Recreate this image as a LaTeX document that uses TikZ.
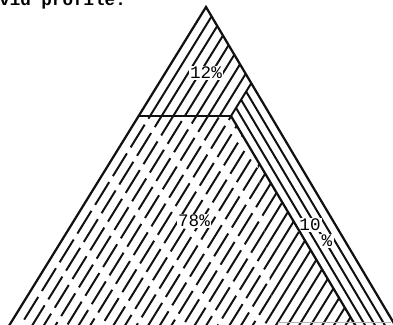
\documentclass[tikz,border=0pt]{standalone}
\usepackage{fontspec}
\newfontfamily\typefont{Liberation Mono}
\usetikzlibrary{calc}
\definecolor{cInk}{HTML}{111111}
\definecolor{cScan}{HTML}{B4B4B4}
\tikzset{
  edge/.style  ={draw=cInk, line width=1.6pt},
  hatch/.style ={draw=cInk, line width=1.4pt},
  dhatch/.style={hatch, dash pattern=on 19pt off 5pt},
  lbl/.style   ={font=\typefont\fontsize{12.5}{14}\selectfont, fill=white, inner sep=1pt},
}

\begin{document}
\begin{tikzpicture}[x=0.025cm,y=-0.025cm]
  \useasboundingbox (0,0) rectangle (393,324);
  % outline corners
  \coordinate (apex) at (206,7);
  \coordinate (ml)   at (138.6,116);
  \coordinate (kink) at (231,116);
  \coordinate (kup)  at (251.3,83.2);
  \coordinate (soft) at (257.1,160);
  \coordinate (bl)   at (6.4,330);
  \coordinate (bs)   at (275,330);
  \coordinate (bk)   at (358.1,330);
  \coordinate (br)   at (397.9,330);
  \coordinate (scanl) at (278,322.5);
  \coordinate (scanr) at (391,322.5);

  \node[anchor=base west, inner sep=0pt,
        font=\typefont\bfseries\fontsize{12.5}{14}\selectfont] (head) at (-1,5.5) {vid profile:};

  % top cap
  \begin{scope}
    \clip (apex) -- (ml) -- (kink) -- (kup) -- cycle;
    \foreach \k in {1,...,7}
      \draw[hatch] ({\k*11.6},340) -- ++(247.2,-400);
  \end{scope}

  % body, broken hatch
  \begin{scope}
    \clip (ml) -- (kink) -- (soft) -- (bs) -- (bl) -- cycle;
    \foreach \k in {1,...,31}{
      \pgfmathsetmacro{\ph}{mod(\k*7,24)}
      \draw[dhatch, dash phase={\ph pt}] ({\k*11.6},340) -- ++(247.2,-400);
    }
  \end{scope}
  \begin{scope}
    \clip (soft) -- (bk) -- (bs) -- cycle;
    \foreach \k in {12,...,31}
      \draw[hatch] ({\k*11.6},340) -- ++(247.2,-400);
  \end{scope}

  % side band
  \begin{scope}
    \clip (kink) -- (kup) -- (br) -- (bk) -- cycle;
    \foreach \j in {1,2,3}
      \draw[hatch] ({231+9.92*\j},116) ++(-69,-116) -- ++(196,330);
  \end{scope}

  \node[lbl] (cap)  at (206,73)  {12\%};
  \node[lbl] (body) at (194,221) {78\%};
  \node[lbl] (ten)  at (310,225) {10};
  \node[lbl] (pct)  at (327,241) {\%};

  \draw[edge] (bl) -- (apex) -- (br);
  \draw[edge, line width=0.9pt] (ml) -- (kink);
  \draw[edge] (kink) -- (bk);
  \draw[hatch] (kink) -- (kup);
  \draw[cScan, line width=0.9pt] (scanl) -- (scanr);
\end{tikzpicture}
\end{document}
